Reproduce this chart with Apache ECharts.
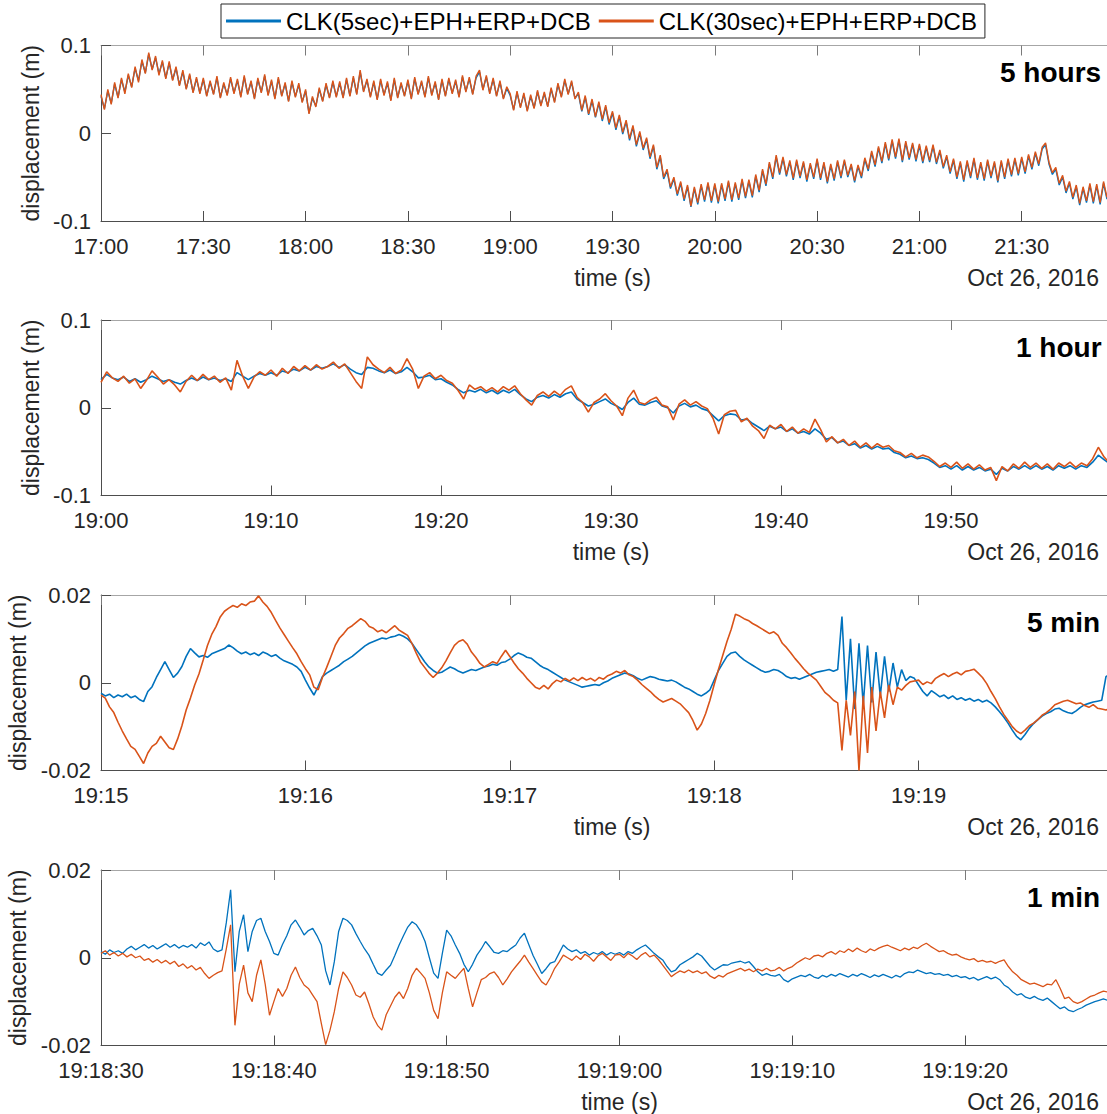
<!DOCTYPE html>
<html>
<head>
<meta charset="utf-8">
<script src="https://cdn.jsdelivr.net/npm/echarts@6/dist/echarts.min.js"></script>
<style>
  html, body { margin: 0; padding: 0; background: #fff; }
  #chart { width: 1107px; height: 1114px; }
</style>
</head>
<body>
<div id="chart"></div>
<script>
// tick labels
const hoursTicks = ["17:00", "17:30", "18:00", "18:30", "19:00", "19:30", "20:00", "20:30", "21:00", "21:30"];
const hourTicks = ["19:00", "19:10", "19:20", "19:30", "19:40", "19:50"];
const fiveMinTicks = ["19:15", "19:16", "19:17", "19:18", "19:19"];
const minuteTicks = ["19:18:30", "19:18:40", "19:18:50", "19:19:00", "19:19:10", "19:19:20"];

// 5 hours window, one value per minute (m)
const hours5Orange = [
  0.044, 0.027, 0.050, 0.033, 0.058, 0.040, 0.063, 0.045, 0.068, 0.052,
  0.076, 0.058, 0.084, 0.068, 0.092, 0.072, 0.088, 0.066, 0.083, 0.062,
  0.082, 0.060, 0.076, 0.054, 0.072, 0.050, 0.068, 0.046, 0.064, 0.045,
  0.063, 0.042, 0.060, 0.044, 0.065, 0.040, 0.058, 0.043, 0.064, 0.045,
  0.062, 0.041, 0.066, 0.044, 0.060, 0.039, 0.063, 0.046, 0.067, 0.043,
  0.061, 0.039, 0.064, 0.042, 0.058, 0.036, 0.060, 0.041, 0.057, 0.035,
  0.050, 0.022, 0.042, 0.030, 0.052, 0.036, 0.057, 0.040, 0.060, 0.041,
  0.059, 0.040, 0.063, 0.042, 0.065, 0.044, 0.072, 0.047, 0.062, 0.041,
  0.060, 0.038, 0.062, 0.043, 0.059, 0.037, 0.063, 0.040, 0.058, 0.042,
  0.061, 0.039, 0.064, 0.044, 0.060, 0.041, 0.065, 0.043, 0.059, 0.038,
  0.062, 0.042, 0.063, 0.045, 0.061, 0.041, 0.066, 0.047, 0.064, 0.044,
  0.065, 0.072, 0.049, 0.066, 0.045, 0.063, 0.042, 0.060, 0.039, 0.053,
  0.045, 0.026, 0.048, 0.029, 0.046, 0.025, 0.044, 0.028, 0.049, 0.031,
  0.047, 0.030, 0.052, 0.035, 0.057, 0.041, 0.062, 0.044, 0.060, 0.039,
  0.047, 0.026, 0.043, 0.022, 0.039, 0.019, 0.036, 0.016, 0.032, 0.012,
  0.025, 0.006, 0.021, 0.001, 0.015, -0.006, 0.009, -0.013, 0.002, -0.017,
  -0.005, -0.027, -0.013, -0.039, -0.025, -0.050, -0.041, -0.061, -0.050, -0.069,
  -0.055, -0.075, -0.059, -0.083, -0.061, -0.079, -0.058, -0.076, -0.056, -0.077,
  -0.057, -0.078, -0.057, -0.075, -0.054, -0.076, -0.056, -0.074, -0.052, -0.072,
  -0.053, -0.071, -0.047, -0.065, -0.041, -0.058, -0.033, -0.050, -0.025, -0.045,
  -0.027, -0.047, -0.031, -0.051, -0.030, -0.049, -0.032, -0.053, -0.034, -0.050,
  -0.029, -0.051, -0.033, -0.055, -0.035, -0.052, -0.031, -0.049, -0.030, -0.048,
  -0.035, -0.054, -0.036, -0.049, -0.028, -0.041, -0.020, -0.036, -0.015, -0.032,
  -0.010, -0.029, -0.007, -0.027, -0.006, -0.031, -0.009, -0.028, -0.011, -0.030,
  -0.012, -0.032, -0.014, -0.031, -0.013, -0.033, -0.019, -0.038, -0.025, -0.044,
  -0.029, -0.050, -0.032, -0.053, -0.031, -0.049, -0.028, -0.051, -0.033, -0.052,
  -0.030, -0.049, -0.032, -0.054, -0.031, -0.050, -0.029, -0.047, -0.028, -0.046,
  -0.027, -0.044, -0.024, -0.039, -0.021, -0.035, -0.016, -0.011, -0.033, -0.045,
  -0.039, -0.057, -0.048, -0.066, -0.055, -0.073, -0.059, -0.080, -0.061, -0.077,
  -0.057, -0.078, -0.058, -0.079, -0.055, -0.073, -0.052, -0.071, -0.053, -0.069
];
const hours5Blue = [
  0.042, 0.028, 0.048, 0.034, 0.056, 0.041, 0.061, 0.047, 0.066, 0.053,
  0.074, 0.060, 0.082, 0.069, 0.090, 0.073, 0.086, 0.068, 0.081, 0.063,
  0.080, 0.061, 0.074, 0.055, 0.070, 0.051, 0.066, 0.047, 0.062, 0.046,
  0.061, 0.043, 0.058, 0.045, 0.063, 0.041, 0.056, 0.044, 0.062, 0.046,
  0.060, 0.042, 0.064, 0.045, 0.058, 0.040, 0.061, 0.047, 0.065, 0.044,
  0.059, 0.040, 0.062, 0.043, 0.056, 0.037, 0.058, 0.042, 0.055, 0.036,
  0.048, 0.023, 0.040, 0.031, 0.050, 0.037, 0.055, 0.041, 0.058, 0.042,
  0.057, 0.041, 0.061, 0.043, 0.063, 0.045, 0.070, 0.048, 0.060, 0.042,
  0.058, 0.039, 0.060, 0.044, 0.057, 0.038, 0.061, 0.041, 0.056, 0.043,
  0.059, 0.040, 0.062, 0.045, 0.058, 0.042, 0.063, 0.044, 0.057, 0.039,
  0.060, 0.043, 0.061, 0.046, 0.059, 0.042, 0.064, 0.048, 0.062, 0.045,
  0.063, 0.070, 0.050, 0.064, 0.046, 0.061, 0.043, 0.058, 0.040, 0.051,
  0.043, 0.027, 0.046, 0.030, 0.044, 0.026, 0.042, 0.029, 0.047, 0.032,
  0.045, 0.031, 0.050, 0.036, 0.055, 0.042, 0.060, 0.045, 0.058, 0.040,
  0.045, 0.025, 0.041, 0.021, 0.037, 0.018, 0.034, 0.014, 0.030, 0.010,
  0.023, 0.004, 0.019, -0.001, 0.013, -0.008, 0.007, -0.015, 0.000, -0.019,
  -0.007, -0.029, -0.015, -0.041, -0.027, -0.052, -0.043, -0.063, -0.052, -0.071,
  -0.057, -0.077, -0.061, -0.084, -0.063, -0.081, -0.060, -0.078, -0.058, -0.079,
  -0.059, -0.080, -0.059, -0.077, -0.056, -0.078, -0.058, -0.076, -0.054, -0.074,
  -0.055, -0.073, -0.049, -0.067, -0.043, -0.060, -0.035, -0.052, -0.027, -0.047,
  -0.029, -0.049, -0.033, -0.053, -0.032, -0.051, -0.034, -0.055, -0.036, -0.052,
  -0.031, -0.053, -0.035, -0.057, -0.037, -0.054, -0.033, -0.051, -0.032, -0.050,
  -0.037, -0.056, -0.038, -0.051, -0.030, -0.043, -0.022, -0.038, -0.017, -0.034,
  -0.012, -0.031, -0.009, -0.029, -0.008, -0.033, -0.011, -0.030, -0.013, -0.032,
  -0.014, -0.034, -0.016, -0.033, -0.015, -0.035, -0.021, -0.040, -0.027, -0.046,
  -0.031, -0.052, -0.034, -0.055, -0.033, -0.051, -0.030, -0.053, -0.035, -0.054,
  -0.032, -0.051, -0.034, -0.056, -0.033, -0.052, -0.031, -0.049, -0.030, -0.048,
  -0.029, -0.046, -0.026, -0.041, -0.023, -0.037, -0.018, -0.013, -0.035, -0.047,
  -0.041, -0.059, -0.050, -0.068, -0.057, -0.075, -0.061, -0.082, -0.063, -0.079,
  -0.059, -0.080, -0.060, -0.081, -0.057, -0.075, -0.054, -0.073, -0.055, -0.071
];

// 1 hour window, one value per 20 s (m)
const hourOrange = [
  0.029, 0.041, 0.034, 0.030, 0.036, 0.028, 0.033, 0.022, 0.031, 0.042, 0.035, 0.027, 0.032, 0.026, 0.018,
  0.030, 0.037, 0.031, 0.038, 0.032, 0.036, 0.029, 0.034, 0.020, 0.054, 0.036, 0.022, 0.035, 0.041, 0.037,
  0.043, 0.036, 0.045, 0.039, 0.047, 0.042, 0.048, 0.043, 0.049, 0.044, 0.047, 0.052, 0.045, 0.050, 0.040,
  0.030, 0.022, 0.058, 0.049, 0.044, 0.040, 0.046, 0.039, 0.043, 0.056, 0.044, 0.022, 0.036, 0.040, 0.033,
  0.037, 0.031, 0.028, 0.020, 0.010, 0.026, 0.021, 0.024, 0.019, 0.023, 0.018, 0.024, 0.020, 0.025, 0.016,
  0.009, 0.003, 0.014, 0.018, 0.013, 0.019, 0.014, 0.021, 0.025, 0.012, 0.006, -0.005, 0.006, 0.010, 0.016,
  0.008, 0.002, -0.009, 0.011, 0.020, 0.006, 0.004, 0.009, 0.012, 0.003, 0.001, -0.014, 0.004, 0.009, 0.003,
  0.007, 0.002, -0.001, -0.012, -0.030, -0.008, -0.004, -0.003, -0.016, -0.012, -0.021, -0.026, -0.035, -0.020, -0.024,
  -0.019, -0.027, -0.022, -0.029, -0.024, -0.028, -0.013, -0.025, -0.039, -0.033, -0.040, -0.036, -0.043, -0.038, -0.045,
  -0.040, -0.046, -0.041, -0.045, -0.043, -0.049, -0.051, -0.056, -0.052, -0.057, -0.054, -0.056, -0.061, -0.067, -0.063,
  -0.068, -0.062, -0.069, -0.064, -0.070, -0.065, -0.071, -0.068, -0.083, -0.067, -0.072, -0.064, -0.069, -0.062, -0.068,
  -0.063, -0.069, -0.064, -0.070, -0.063, -0.067, -0.062, -0.068, -0.063, -0.066, -0.058, -0.045, -0.056, -0.063, -0.067
];
const hourBlue = [
  0.032, 0.038, 0.034, 0.032, 0.035, 0.030, 0.033, 0.029, 0.032, 0.036, 0.033, 0.030, 0.032, 0.029, 0.027,
  0.031, 0.034, 0.031, 0.035, 0.032, 0.034, 0.031, 0.033, 0.030, 0.040, 0.036, 0.032, 0.036, 0.039, 0.037,
  0.040, 0.037, 0.042, 0.040, 0.044, 0.042, 0.046, 0.043, 0.047, 0.045, 0.047, 0.050, 0.046, 0.049, 0.044,
  0.040, 0.038, 0.046, 0.045, 0.042, 0.040, 0.043, 0.039, 0.041, 0.046, 0.041, 0.034, 0.035, 0.037, 0.032,
  0.033, 0.029, 0.026, 0.021, 0.017, 0.020, 0.018, 0.021, 0.017, 0.020, 0.016, 0.020, 0.017, 0.021, 0.015,
  0.010, 0.007, 0.012, 0.014, 0.011, 0.015, 0.012, 0.016, 0.018, 0.010, 0.006, 0.002, 0.004, 0.007, 0.010,
  0.005, 0.002, -0.002, 0.006, 0.011, 0.004, 0.003, 0.006, 0.008, 0.002, 0.000, -0.006, 0.002, 0.005, 0.001,
  0.003, -0.001, -0.003, -0.009, -0.015, -0.009, -0.007, -0.008, -0.014, -0.013, -0.018, -0.022, -0.026, -0.021, -0.024,
  -0.022, -0.027, -0.024, -0.029, -0.027, -0.030, -0.024, -0.029, -0.036, -0.034, -0.040, -0.038, -0.043, -0.041, -0.046,
  -0.043, -0.047, -0.044, -0.047, -0.046, -0.051, -0.053, -0.057, -0.055, -0.058, -0.057, -0.059, -0.063, -0.068, -0.066,
  -0.070, -0.066, -0.071, -0.067, -0.071, -0.068, -0.072, -0.070, -0.076, -0.069, -0.072, -0.067, -0.070, -0.066, -0.070,
  -0.066, -0.070, -0.067, -0.071, -0.066, -0.069, -0.066, -0.070, -0.066, -0.068, -0.062, -0.054, -0.059, -0.064, -0.068
];

// 5 min window, one value per 1.25 s (m)
const fiveMinOrange = [
  -0.0028, -0.0035, -0.0055, -0.0068, -0.0090, -0.0110, -0.0128, -0.0145, -0.0152, -0.0168, -0.0184, -0.0160, -0.0145, -0.0138, -0.0122, -0.0135,
  -0.0148, -0.0152, -0.0128, -0.0098, -0.0062, -0.0035, -0.0005, 0.0020, 0.0052, 0.0085, 0.0110, 0.0128, 0.0150, 0.0163, 0.0170, 0.0176,
  0.0172, 0.0180, 0.0176, 0.0184, 0.0186, 0.0198, 0.0184, 0.0174, 0.0160, 0.0142, 0.0125, 0.0110, 0.0095, 0.0080, 0.0066, 0.0048,
  0.0032, 0.0018, -0.0010, -0.0016, 0.0012, 0.0035, 0.0060, 0.0085, 0.0102, 0.0112, 0.0124, 0.0130, 0.0138, 0.0146, 0.0140, 0.0128,
  0.0124, 0.0116, 0.0120, 0.0114, 0.0122, 0.0130, 0.0120, 0.0114, 0.0108, 0.0090, 0.0068, 0.0048, 0.0035, 0.0022, 0.0012, 0.0022,
  0.0034, 0.0050, 0.0068, 0.0085, 0.0094, 0.0098, 0.0088, 0.0070, 0.0058, 0.0044, 0.0036, 0.0042, 0.0048, 0.0044, 0.0060, 0.0074,
  0.0060, 0.0045, 0.0032, 0.0022, 0.0010, 0.0000, -0.0010, -0.0014, -0.0006, -0.0014, -0.0002, 0.0006, 0.0002, 0.0010, 0.0004, 0.0011,
  0.0005, 0.0012, 0.0006, 0.0010, 0.0004, 0.0012, 0.0008, 0.0016, 0.0020, 0.0026, 0.0022, 0.0028, 0.0018, 0.0014, 0.0006, -0.0004,
  -0.0012, -0.0020, -0.0030, -0.0038, -0.0044, -0.0040, -0.0036, -0.0042, -0.0048, -0.0058, -0.0068, -0.0086, -0.0108, -0.0094, -0.0070, -0.0040,
  -0.0004, 0.0030, 0.0062, 0.0094, 0.0122, 0.0156, 0.0152, 0.0146, 0.0142, 0.0135, 0.0130, 0.0124, 0.0118, 0.0112, 0.0116, 0.0108,
  0.0090, 0.0080, 0.0068, 0.0055, 0.0044, 0.0032, 0.0022, 0.0014, 0.0006, -0.0008, -0.0022, -0.0030, -0.0040, -0.0046, -0.0154, -0.0040,
  -0.0120, -0.0020, -0.0200, -0.0030, -0.0160, -0.0010, -0.0110, -0.0020, -0.0080, -0.0005, -0.0050, -0.0010, -0.0017, -0.0006, 0.0002, 0.0004,
  0.0006, -0.0004, 0.0002, -0.0002, 0.0010, 0.0016, 0.0021, 0.0014, 0.0020, 0.0024, 0.0018, 0.0026, 0.0028, 0.0031, 0.0022, 0.0012,
  -0.0002, -0.0020, -0.0036, -0.0055, -0.0072, -0.0086, -0.0100, -0.0110, -0.0116, -0.0108, -0.0098, -0.0092, -0.0084, -0.0074, -0.0068, -0.0060,
  -0.0050, -0.0046, -0.0042, -0.0040, -0.0044, -0.0048, -0.0046, -0.0052, -0.0056, -0.0050, -0.0058, -0.0060, -0.0062, -0.0058, -0.0064, -0.0060
];
const fiveMinBlue = [
  -0.0024, -0.0030, -0.0026, -0.0034, -0.0028, -0.0032, -0.0026, -0.0034, -0.0030, -0.0038, -0.0043, -0.0020, -0.0009, 0.0012, 0.0030, 0.0048,
  0.0030, 0.0012, 0.0022, 0.0037, 0.0060, 0.0078, 0.0068, 0.0059, 0.0062, 0.0058, 0.0066, 0.0070, 0.0074, 0.0078, 0.0086, 0.0080,
  0.0072, 0.0066, 0.0070, 0.0064, 0.0068, 0.0062, 0.0070, 0.0066, 0.0060, 0.0064, 0.0056, 0.0050, 0.0046, 0.0042, 0.0036, 0.0026,
  0.0006, -0.0012, -0.0028, -0.0008, 0.0014, 0.0022, 0.0028, 0.0034, 0.0040, 0.0048, 0.0054, 0.0060, 0.0068, 0.0076, 0.0084, 0.0090,
  0.0094, 0.0098, 0.0102, 0.0100, 0.0104, 0.0106, 0.0110, 0.0106, 0.0100, 0.0090, 0.0076, 0.0062, 0.0048, 0.0036, 0.0028, 0.0022,
  0.0024, 0.0030, 0.0036, 0.0032, 0.0026, 0.0022, 0.0026, 0.0030, 0.0028, 0.0032, 0.0036, 0.0038, 0.0042, 0.0040, 0.0046, 0.0048,
  0.0054, 0.0062, 0.0068, 0.0064, 0.0058, 0.0056, 0.0048, 0.0040, 0.0034, 0.0030, 0.0024, 0.0018, 0.0012, 0.0006, 0.0002, -0.0002,
  -0.0006, -0.0010, -0.0008, -0.0006, -0.0004, -0.0006, 0.0000, 0.0004, 0.0010, 0.0014, 0.0018, 0.0022, 0.0020, 0.0016, 0.0010, 0.0006,
  0.0010, 0.0014, 0.0012, 0.0008, 0.0006, 0.0004, 0.0006, 0.0002, -0.0004, -0.0010, -0.0014, -0.0020, -0.0026, -0.0030, -0.0024, -0.0016,
  0.0006, 0.0028, 0.0044, 0.0060, 0.0068, 0.0070, 0.0060, 0.0052, 0.0046, 0.0040, 0.0034, 0.0028, 0.0024, 0.0026, 0.0030, 0.0028,
  0.0022, 0.0014, 0.0010, 0.0012, 0.0008, 0.0012, 0.0016, 0.0020, 0.0024, 0.0026, 0.0028, 0.0030, 0.0026, 0.0030, 0.0151, -0.0040,
  0.0100, -0.0060, 0.0090, -0.0050, 0.0085, -0.0045, 0.0070, -0.0030, 0.0060, -0.0020, 0.0045, -0.0010, 0.0030, 0.0005, 0.0014, 0.0010,
  -0.0005, -0.0020, -0.0030, -0.0018, -0.0025, -0.0032, -0.0028, -0.0036, -0.0030, -0.0038, -0.0034, -0.0040, -0.0036, -0.0042, -0.0038, -0.0044,
  -0.0040, -0.0046, -0.0055, -0.0066, -0.0078, -0.0092, -0.0108, -0.0122, -0.0130, -0.0118, -0.0104, -0.0093, -0.0084, -0.0076, -0.0070, -0.0066,
  -0.0060, -0.0058, -0.0064, -0.0068, -0.0070, -0.0064, -0.0056, -0.0050, -0.0047, -0.0044, -0.0042, -0.0040, 0.0014, 0.0020, 0.0010, 0.0006
];

// 1 min window, one value per 0.25 s (m)
const minuteOrange = [
  0.0010, 0.0016, 0.0006, 0.0012, 0.0004, 0.0010, 0.0002, 0.0008, 0.0000, 0.0004, -0.0006, -0.0002, -0.0010, -0.0004, -0.0012, -0.0006, -0.0014, -0.0008, -0.0020, -0.0014,
  -0.0024, -0.0018, -0.0028, -0.0022, -0.0036, -0.0047, -0.0040, -0.0034, -0.0030, 0.0020, 0.0075, -0.0154, -0.0060, -0.0017, -0.0080, -0.0100, -0.0040, -0.0005, -0.0060, -0.0131,
  -0.0100, -0.0070, -0.0088, -0.0070, -0.0040, -0.0021, -0.0045, -0.0062, -0.0070, -0.0085, -0.0100, -0.0150, -0.0198, -0.0165, -0.0123, -0.0070, -0.0032, -0.0045, -0.0062, -0.0085,
  -0.0090, -0.0078, -0.0105, -0.0135, -0.0154, -0.0165, -0.0130, -0.0110, -0.0090, -0.0078, -0.0093, -0.0070, -0.0040, -0.0024, -0.0035, -0.0047, -0.0080, -0.0120, -0.0139, -0.0080,
  -0.0032, -0.0040, -0.0047, -0.0035, -0.0024, -0.0070, -0.0112, -0.0080, -0.0050, -0.0045, -0.0036, -0.0032, -0.0045, -0.0062, -0.0048, -0.0032, -0.0020, -0.0008, 0.0006, -0.0010,
  -0.0025, -0.0040, -0.0055, -0.0062, -0.0045, -0.0024, -0.0010, 0.0006, 0.0000, -0.0006, 0.0004, -0.0004, 0.0008, 0.0002, -0.0008, 0.0004, 0.0010, 0.0002, -0.0006, 0.0006,
  0.0008, 0.0000, 0.0010, 0.0004, -0.0004, 0.0006, 0.0012, 0.0002, 0.0006, -0.0004, -0.0017, -0.0030, -0.0043, -0.0036, -0.0030, -0.0034, -0.0028, -0.0034, -0.0030, -0.0036,
  -0.0032, -0.0042, -0.0047, -0.0040, -0.0044, -0.0036, -0.0032, -0.0028, -0.0024, -0.0030, -0.0026, -0.0032, -0.0026, -0.0030, -0.0024, -0.0030, -0.0028, -0.0022, -0.0030, -0.0024,
  -0.0020, -0.0012, -0.0006, 0.0000, -0.0004, 0.0004, 0.0006, 0.0002, 0.0010, 0.0014, 0.0008, 0.0016, 0.0012, 0.0020, 0.0014, 0.0022, 0.0016, 0.0012, 0.0020, 0.0016,
  0.0022, 0.0026, 0.0029, 0.0024, 0.0020, 0.0016, 0.0022, 0.0018, 0.0024, 0.0021, 0.0028, 0.0033, 0.0026, 0.0020, 0.0014, 0.0016, 0.0010, 0.0006, 0.0008, 0.0002,
  -0.0002, -0.0005, -0.0002, -0.0009, -0.0006, -0.0010, -0.0008, -0.0013, -0.0008, -0.0005, -0.0020, -0.0032, -0.0040, -0.0050, -0.0055, -0.0060, -0.0058, -0.0062, -0.0066, -0.0060,
  -0.0062, -0.0050, -0.0070, -0.0093, -0.0090, -0.0100, -0.0104, -0.0100, -0.0094, -0.0088, -0.0085, -0.0080, -0.0076, -0.0078, -0.0082, -0.0080, -0.0078, -0.0080, -0.0082, -0.0080
];
const minuteBlue = [
  0.0014, 0.0008, 0.0018, 0.0012, 0.0016, 0.0010, 0.0020, 0.0026, 0.0018, 0.0024, 0.0030, 0.0022, 0.0028, 0.0020, 0.0026, 0.0032, 0.0024, 0.0030, 0.0022, 0.0028,
  0.0024, 0.0030, 0.0022, 0.0034, 0.0028, 0.0036, 0.0020, 0.0014, 0.0018, 0.0080, 0.0155, -0.0032, 0.0060, 0.0098, 0.0014, 0.0060, 0.0085, 0.0090, 0.0060, 0.0037,
  0.0010, 0.0006, 0.0030, 0.0050, 0.0075, 0.0086, 0.0070, 0.0052, 0.0062, 0.0067, 0.0050, 0.0029, -0.0030, -0.0062, -0.0009, 0.0060, 0.0090, 0.0085, 0.0075, 0.0055,
  0.0037, 0.0020, 0.0006, -0.0015, -0.0035, -0.0040, -0.0028, -0.0017, 0.0005, 0.0029, 0.0050, 0.0070, 0.0082, 0.0075, 0.0060, 0.0037, 0.0000, -0.0035, -0.0047, 0.0010,
  0.0063, 0.0050, 0.0029, 0.0010, -0.0015, -0.0032, -0.0015, 0.0006, 0.0020, 0.0037, 0.0025, 0.0012, 0.0010, 0.0016, 0.0014, 0.0022, 0.0029, 0.0045, 0.0056, 0.0030,
  0.0005, -0.0015, -0.0036, -0.0025, -0.0012, -0.0009, 0.0010, 0.0029, 0.0020, 0.0014, 0.0018, 0.0010, 0.0014, 0.0006, 0.0012, 0.0008, 0.0014, 0.0006, 0.0012, 0.0008,
  0.0012, 0.0006, 0.0014, 0.0010, 0.0018, 0.0024, 0.0029, 0.0020, 0.0010, 0.0002, -0.0005, -0.0020, -0.0032, -0.0028, -0.0016, -0.0010, -0.0004, 0.0002, 0.0010, 0.0004,
  -0.0008, -0.0020, -0.0028, -0.0022, -0.0016, -0.0017, -0.0012, -0.0010, -0.0008, -0.0012, -0.0009, -0.0020, -0.0032, -0.0040, -0.0036, -0.0040, -0.0042, -0.0038, -0.0050, -0.0055,
  -0.0048, -0.0044, -0.0040, -0.0043, -0.0038, -0.0044, -0.0047, -0.0040, -0.0044, -0.0038, -0.0042, -0.0036, -0.0040, -0.0044, -0.0038, -0.0042, -0.0036, -0.0040, -0.0045, -0.0039,
  -0.0043, -0.0038, -0.0042, -0.0046, -0.0040, -0.0044, -0.0036, -0.0032, -0.0034, -0.0028, -0.0032, -0.0036, -0.0034, -0.0038, -0.0036, -0.0040, -0.0038, -0.0043, -0.0040, -0.0045,
  -0.0043, -0.0048, -0.0045, -0.0051, -0.0047, -0.0043, -0.0048, -0.0044, -0.0050, -0.0062, -0.0068, -0.0078, -0.0085, -0.0082, -0.0090, -0.0093, -0.0088, -0.0094, -0.0097, -0.0092,
  -0.0100, -0.0108, -0.0116, -0.0112, -0.0120, -0.0123, -0.0118, -0.0114, -0.0108, -0.0104, -0.0100, -0.0097, -0.0094, -0.0097, -0.0100, -0.0098, -0.0096, -0.0098, -0.0100, -0.0098
];

const BLUE_NAME = "CLK(5sec)+EPH+ERP+DCB";
const ORANGE_NAME = "CLK(30sec)+EPH+ERP+DCB";
const BLUE = "#0072BD";
const ORANGE = "#D95319";
const TEXT = "#262626";
const FONT = '"Liberation Sans", Arial, Helvetica, sans-serif';

const panels = [
  { top: 45.5, right: -17, max: 300, interval: 30, ticks: hoursTicks, yMax: 0.1,
    blue: hours5Blue, blueStep: 1, orange: hours5Orange, orangeStep: 1, label: "5 hours", labelLeft: 1000, width: 1.4 },
  { top: 320, right: -14, max: 60, interval: 10, ticks: hourTicks, yMax: 0.1,
    blue: hourBlue, blueStep: 1 / 3, orange: hourOrange, orangeStep: 1 / 3, label: "1 hour", labelLeft: 1016, width: 1.6 },
  { top: 595, right: -16, max: 300, interval: 60, ticks: fiveMinTicks, yMax: 0.02,
    blue: fiveMinBlue, blueStep: 1.25, orange: fiveMinOrange, orangeStep: 1.25, label: "5 min", labelLeft: 1027, width: 1.6 },
  { top: 870, right: -31, max: 60, interval: 10, ticks: minuteTicks, yMax: 0.02,
    blue: minuteBlue, blueStep: 0.25, orange: minuteOrange, orangeStep: 0.25, label: "1 min", labelLeft: 1027, width: 1.3 },
];
const PANEL_HEIGHT = 175.5;

function toPoints(values, step) {
  return values.map((v, i) => [i * step, v]);
}

const grid = [];
const xAxis = [];
const yAxis = [];
const series = [];
const title = [];

panels.forEach((p, k) => {
  grid.push({
    left: 101,
    right: p.right,
    top: p.top,
    height: PANEL_HEIGHT,
    containLabel: false,
    outerBoundsMode: "none",
  });

  xAxis.push({
    type: "value",
    gridIndex: k,
    min: 0,
    max: p.max,
    interval: p.interval,
    name: "time (s)",
    nameLocation: "middle",
    nameGap: 45,
    nameTextStyle: { fontSize: 23, color: TEXT, fontFamily: FONT },
    axisLine: { show: true, onZero: false, lineStyle: { color: "#4d4d4d", width: 1 } },
    axisTick: { show: true, inside: true, length: 10, lineStyle: { color: "#4d4d4d" } },
    axisLabel: {
      margin: 14,
      fontSize: 22,
      color: TEXT,
      fontFamily: FONT,
      formatter: (v) => p.ticks[Math.round(v / p.interval)] || "",
    },
    splitLine: { show: false },
  });
  xAxis.push({
    type: "value",
    gridIndex: k,
    position: "top",
    min: 0,
    max: p.max,
    interval: p.interval,
    axisLine: { show: true, onZero: false, lineStyle: { color: "#a6a6a6", width: 1 } },
    axisTick: { show: true, inside: true, length: 10, lineStyle: { color: "#7a7a7a" } },
    axisLabel: { show: false },
    splitLine: { show: false },
  });

  yAxis.push({
    type: "value",
    gridIndex: k,
    min: -p.yMax,
    max: p.yMax,
    interval: p.yMax,
    name: "displacement (m)",
    nameLocation: "middle",
    nameGap: 54,
    nameTextStyle: { fontSize: 23, color: TEXT, fontFamily: FONT },
    axisLine: { show: true, onZero: false, lineStyle: { color: "#4d4d4d", width: 1 } },
    axisTick: { show: true, inside: true, length: 10, lineStyle: { color: "#4d4d4d" } },
    axisLabel: { margin: 10, fontSize: 22, color: TEXT, fontFamily: FONT },
    splitLine: { show: false },
  });

  series.push({
    name: BLUE_NAME,
    type: "line",
    xAxisIndex: 2 * k,
    yAxisIndex: k,
    data: toPoints(p.blue, p.blueStep),
    symbol: "none",
    lineStyle: { color: BLUE, width: p.width },
    itemStyle: { color: BLUE },
    z: 2,
    silent: true,
  });
  series.push({
    name: ORANGE_NAME,
    type: "line",
    xAxisIndex: 2 * k,
    yAxisIndex: k,
    data: toPoints(p.orange, p.orangeStep),
    symbol: "none",
    lineStyle: { color: ORANGE, width: p.width },
    itemStyle: { color: ORANGE },
    z: 3,
    silent: true,
  });

  title.push({
    text: p.label,
    left: p.labelLeft,
    top: p.top + 13,
    padding: 0,
    textStyle: { fontSize: 28, fontWeight: "bold", color: "#000", fontFamily: FONT },
  });
  title.push({
    text: "Oct 26, 2016",
    right: 8,
    top: p.top + PANEL_HEIGHT + 45,
    padding: 0,
    textStyle: { fontSize: 23, fontWeight: "normal", color: TEXT, fontFamily: FONT },
  });
});

const chart = echarts.init(document.getElementById("chart"), null, { renderer: "svg" });

chart.setOption({
  animation: false,
  backgroundColor: "#fff",
  title,
  legend: {
    left: 221,
    top: 4,
    padding: [5, 8, 5, 5],
    itemGap: 8,
    itemWidth: 55,
    itemHeight: 3,
    icon: "rect",
    borderColor: TEXT,
    borderWidth: 1,
    textStyle: { fontSize: 24, color: "#000", fontFamily: FONT },
    data: [BLUE_NAME, ORANGE_NAME],
  },
  grid,
  xAxis,
  yAxis,
  series,
});
</script>
</body>
</html>
